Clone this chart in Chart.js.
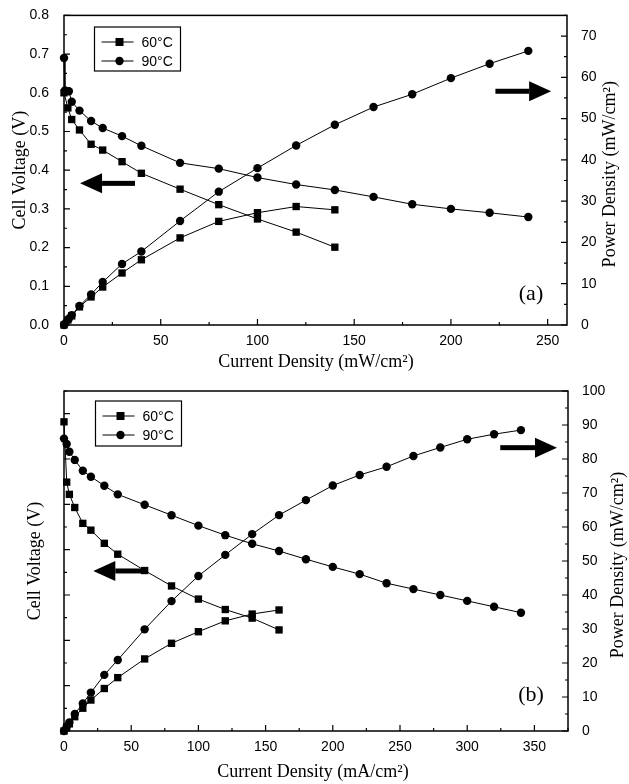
<!DOCTYPE html>
<html>
<head>
<meta charset="utf-8">
<script src="https://cdn.jsdelivr.net/npm/chart.js@4/dist/chart.umd.min.js"></script>
<style>
  body { margin: 0; background: #fff; width: 629px; height: 784px; overflow: hidden; position: relative; }
  .panel { position: absolute; left: 0; width: 629px; }
</style>
</head>
<body>
<div class="panel" style="top:0;height:372px"><canvas id="chartA" width="629" height="372"></canvas></div>
<div class="panel" style="top:372px;height:412px"><canvas id="chartB" width="629" height="412"></canvas></div>
<script>
// panel (a) data
var currentA60 = [0, 2, 4, 8, 14, 20, 30, 40, 60, 80, 100, 120, 140];
var voltA60 = [0.60, 0.561, 0.531, 0.504, 0.467, 0.452, 0.422, 0.392, 0.351, 0.311, 0.274, 0.240, 0.201];
var powerA60 = [0, 1.2, 2.2, 4.4, 6.8, 9.2, 12.6, 15.8, 21.1, 25.1, 27.2, 28.7, 27.9];

var currentA90 = [0, 0.5, 2.5, 4, 8, 14, 20, 30, 40, 60, 80, 100, 120, 140, 160, 180, 200, 220, 240];
var voltA90 = [0.69, 0.606, 0.604, 0.577, 0.554, 0.527, 0.509, 0.488, 0.463, 0.419, 0.404, 0.381, 0.363, 0.349, 0.331, 0.312, 0.300, 0.290, 0.279];
var powerA90 = [0, 0.3, 1.5, 2.4, 4.6, 7.4, 10.4, 14.8, 17.8, 25.2, 32.3, 38.0, 43.5, 48.5, 52.8, 55.9, 59.8, 63.3, 66.4];

// panel (b) data
var currentB60 = [0, 2, 4, 8, 14, 20, 30, 40, 60, 80, 100, 120, 140, 160];
var voltB60 = [0.682, 0.549, 0.522, 0.493, 0.458, 0.443, 0.414, 0.390, 0.354, 0.320, 0.291, 0.268, 0.249, 0.223];
var powerB60 = [0, 1.1, 2.1, 4.2, 6.7, 9.1, 12.5, 15.7, 21.2, 25.8, 29.2, 32.4, 34.4, 35.6];

var currentB90 = [0, 2, 4, 8, 14, 20, 30, 40, 60, 80, 100, 120, 140, 160, 180, 200, 220, 240, 260, 280, 300, 320, 340];
var voltB90 = [0.645, 0.633, 0.616, 0.598, 0.574, 0.561, 0.541, 0.522, 0.499, 0.476, 0.453, 0.432, 0.413, 0.397, 0.379, 0.362, 0.346, 0.326, 0.313, 0.300, 0.287, 0.274, 0.261];
var powerB90 = [0, 1.3, 2.5, 5.0, 8.1, 11.3, 16.5, 20.9, 29.9, 38.2, 45.6, 51.8, 57.9, 63.5, 67.9, 72.2, 75.3, 77.7, 80.9, 83.4, 85.8, 87.3, 88.5];

var legendLabels = ['60°C', '90°C'];

// arrows: [tail current, tip current, voltage level]
var arrowsA = [[36.7, 8.3, 0.366], [223, 251.8, 0.604]];
var arrowsB = [[62.5, 21.8, 0.353], [324.6, 366.8, 0.625]];

var SANS = '"Liberation Sans", Arial, sans-serif';
var SERIF = '"Liberation Serif", "Times New Roman", serif';

function pts(xs, ys) {
    return xs.map(function (x, i) { return { x: x, y: ys[i] }; });
}

function makeSet(xs, ys, axis, style) {
    return {
        data: pts(xs, ys),
        yAxisID: axis,
        borderColor: '#000',
        borderWidth: 1,
        backgroundColor: '#000',
        pointStyle: style,
        pointRadius: style === 'rect' ? 5.2 : 4.2,
        pointBorderWidth: 0,
        tension: 0,
        clip: false
    };
}

// rebuild tick list as every multiple of step inside the range
function everyStep(step) {
    return function (scale) {
        var list = [];
        var n = Math.floor(scale.max / step + 1e-6);
        for (var i = 0; i <= n; i++) list.push({ value: +(i * step).toFixed(6) });
        scale.ticks = list;
    };
}

function drawArrow(ctx, x0, x1, y) {
    var dir = x1 > x0 ? 1 : -1;
    var head = 22;
    ctx.fillStyle = '#000';
    ctx.fillRect(Math.min(x0, x1 - dir * head), y - 2.5, Math.abs(x1 - dir * head - x0), 5);
    ctx.beginPath();
    ctx.moveTo(x1, y);
    ctx.lineTo(x1 - dir * head, y - 10);
    ctx.lineTo(x1 - dir * head, y + 10);
    ctx.closePath();
    ctx.fill();
}

// frame, inward ticks, titles, legend, arrows
var decorPlugin = {
    id: 'decor',
    afterDraw: function (chart) {
        var o = chart.options.plugins.decor;
        var ctx = chart.ctx;
        var a = chart.chartArea;
        var sx = chart.scales.x, sv = chart.scales.yV, sp = chart.scales.yP;
        ctx.save();
        ctx.strokeStyle = '#000';
        ctx.lineWidth = 1.5;
        ctx.strokeRect(a.left, a.top, a.right - a.left, a.bottom - a.top);

        ctx.lineWidth = 1.2;
        function ticks(scale, major, minor, draw) {
            for (var v = scale.min; v <= scale.max + 1e-9; v += minor) {
                var r = v / major;
                var isMajor = Math.abs(r - Math.round(r)) < 1e-6;
                draw(scale.getPixelForValue(v), isMajor ? 6 : 3);
            }
        }
        ctx.beginPath();
        ticks(sx, o.xStep, o.xStep / 2, function (p, len) { ctx.moveTo(p, a.bottom); ctx.lineTo(p, a.bottom - len); });
        ticks(sv, o.vStep, o.vStep / 2, function (p, len) { ctx.moveTo(a.left, p); ctx.lineTo(a.left + len, p); });
        ticks(sp, o.pStep, o.pStep / 2, function (p, len) { ctx.moveTo(a.right, p); ctx.lineTo(a.right - len, p); });
        ctx.stroke();

        // axis titles
        ctx.fillStyle = '#000';
        ctx.font = '18px ' + SERIF;
        ctx.textAlign = 'center';
        ctx.textBaseline = 'middle';
        ctx.fillText(o.xTitle, o.xTitlePos[0], o.xTitlePos[1]);
        var midY = (a.top + a.bottom) / 2;
        ctx.save();
        ctx.translate(o.leftTitleX, midY);
        ctx.rotate(-Math.PI / 2);
        ctx.fillText('Cell Voltage (V)', 0, 0);
        ctx.restore();
        ctx.save();
        ctx.translate(o.rightTitleX, midY + 4);
        ctx.rotate(-Math.PI / 2);
        ctx.fillText('Power Density (mW/cm²)', 0, 0);
        ctx.restore();

        // panel tag
        ctx.font = '22px ' + SERIF;
        ctx.fillText(o.tag, o.tagPos[0], o.tagPos[1]);

        // legend
        var lg = o.legendBox;
        ctx.lineWidth = 1.2;
        ctx.strokeRect(lg[0], lg[1], lg[2], lg[3]);
        ctx.font = '14px ' + SANS;
        ctx.textAlign = 'left';
        var rows = [lg[1] + 15, lg[1] + 34];
        for (var i = 0; i < 2; i++) {
            var y = rows[i];
            ctx.beginPath();
            ctx.lineWidth = 1;
            ctx.moveTo(lg[0] + 7, y);
            ctx.lineTo(lg[0] + 39, y);
            ctx.stroke();
            if (i === 0) {
                ctx.fillRect(lg[0] + 21, y - 4, 8, 8);
            } else {
                ctx.beginPath();
                ctx.arc(lg[0] + 25, y, 4.2, 0, Math.PI * 2);
                ctx.fill();
            }
            ctx.fillText(legendLabels[i], lg[0] + 47, y + 1);
        }

        // arrows
        o.arrows.forEach(function (ar) {
            drawArrow(ctx, sx.getPixelForValue(ar[0]), sx.getPixelForValue(ar[1]), sv.getPixelForValue(ar[2]));
        });
        ctx.restore();
    }
};

function makePanel(id, cfg) {
    var ctx = document.getElementById(id).getContext('2d');
    return new Chart(ctx, {
        type: 'line',
        data: { datasets: cfg.datasets },
        options: {
            responsive: false,
            animation: false,
            events: [],
            layout: { padding: { top: cfg.top, left: 0, right: 0, bottom: 0 } },
            plugins: {
                legend: { display: false },
                tooltip: { enabled: false },
                decor: cfg.decor
            },
            scales: {
                x: {
                    type: 'linear', min: 0, max: cfg.xMax,
                    grid: { display: false }, border: { display: false },
                    ticks: { color: '#000', padding: 0, maxRotation: 0, autoSkip: false, font: { family: SANS, size: 14 } },
                    afterBuildTicks: everyStep(50),
                    afterFit: function (s) { s.height = cfg.xHeight; }
                },
                yV: {
                    type: 'linear', position: 'left', min: 0, max: cfg.vMax,
                    grid: { display: false }, border: { display: false },
                    ticks: {
                        display: cfg.vLabels, color: '#000', padding: 7, autoSkip: false,
                        font: { family: SANS, size: 14 },
                        callback: function (v) { return v.toFixed(1); }
                    },
                    afterBuildTicks: everyStep(0.1),
                    afterFit: function (s) { s.width = 64; }
                },
                yP: {
                    type: 'linear', position: 'right', min: 0, max: cfg.pMax,
                    grid: { display: false }, border: { display: false },
                    ticks: { color: '#000', padding: 6, autoSkip: false, font: { family: SANS, size: 14 } },
                    afterBuildTicks: everyStep(10),
                    afterFit: function (s) { s.width = cfg.rightWidth; }
                }
            }
        },
        plugins: [decorPlugin]
    });
}

makePanel('chartA', {
    top: 14, xMax: 260, vMax: 0.8, pMax: 75, vLabels: true, xHeight: 47, rightWidth: 62,
    datasets: [
        makeSet(currentA60, voltA60, 'yV', 'rect'),
        makeSet(currentA60, powerA60, 'yP', 'rect'),
        makeSet(currentA90, voltA90, 'yV', 'circle'),
        makeSet(currentA90, powerA90, 'yP', 'circle')
    ],
    decor: {
        xStep: 50, vStep: 0.1, pStep: 10,
        xTitle: 'Current Density (mW/cm²)', xTitlePos: [316, 362],
        leftTitleX: 20, rightTitleX: 610,
        tag: '(a)', tagPos: [531, 294],
        legendBox: [94.5, 27, 86, 44],
        arrows: arrowsA
    }
});

makePanel('chartB', {
    top: 19, xMax: 375, vMax: 0.75, pMax: 100, vLabels: false, xHeight: 53, rightWidth: 61,
    datasets: [
        makeSet(currentB60, voltB60, 'yV', 'rect'),
        makeSet(currentB60, powerB60, 'yP', 'rect'),
        makeSet(currentB90, voltB90, 'yV', 'circle'),
        makeSet(currentB90, powerB90, 'yP', 'circle')
    ],
    decor: {
        xStep: 50, vStep: 0.1, pStep: 10,
        xTitle: 'Current Density (mA/cm²)', xTitlePos: [313, 400],
        leftTitleX: 35, rightTitleX: 618,
        tag: '(b)', tagPos: [531, 323],
        legendBox: [95.5, 29, 86, 45],
        arrows: arrowsB
    }
});
</script>
</body>
</html>
